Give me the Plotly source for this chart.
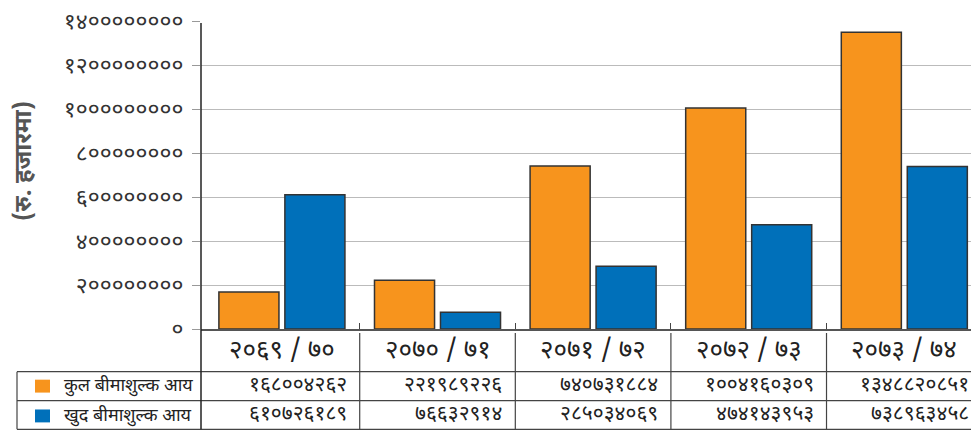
import plotly.graph_objects as go

categories = ["२०६९ / ७०", "२०७० / ७१", "२०७१ / ७२", "२०७२ / ७३", "२०७३ / ७४"]
series_names = ["कुल बीमाशुल्क आय", "खुद बीमाशुल्क आय"]
gross_premium = [168004262, 221989226, 740731884, 1004160309, 1348820851]
net_premium = [610726189, 76632914, 285034069, 474143953, 738963458]
y_tick_values = [0, 200000000, 400000000, 600000000, 800000000, 1000000000, 1200000000, 1400000000]
y_title = "(रु. हजारमा)"

colors = ["#F7941D", "#0070BA"]
DEV = str.maketrans("0123456789", "०१२३४५६७८९")
def dev(n):
    return str(n).translate(DEV)

FONT = "Noto Sans Devanagari, Noto Sans, Lohit Devanagari, sans-serif"

xs = list(range(len(categories)))
W = 0.386
fig = go.Figure()
fig.add_trace(go.Bar(x=xs, y=gross_premium, name=series_names[0], width=W, offset=-0.405,
                     marker=dict(color=colors[0], line=dict(color="#333333", width=1.5))))
fig.add_trace(go.Bar(x=xs, y=net_premium, name=series_names[1], width=W, offset=0.019,
                     marker=dict(color=colors[1], line=dict(color="#333333", width=1.5))))

# page pixel -> paper coords (plot area spans page x 201..979, y 19..329)
def py(p):
    return (329 - p) / 310.0
def px(p):
    return (p - 201) / 778.0

shapes = []
annotations = []
n = len(categories)
for yy in [372, 401, 430]:
    shapes.append(dict(type="line", xref="paper", yref="paper", x0=px(17), x1=1, y0=py(yy), y1=py(yy),
                       line=dict(color="#444444", width=1.2)))
shapes.append(dict(type="line", xref="paper", yref="paper", x0=px(17), x1=px(17), y0=py(372), y1=py(430),
                   line=dict(color="#444444", width=1.2)))
for k in range(n - 1):
    shapes.append(dict(type="line", xref="x", yref="paper", x0=k + 0.5, x1=k + 0.5, y0=py(333), y1=py(430),
                       line=dict(color="#444444", width=1.2)))
shapes.append(dict(type="line", xref="paper", yref="paper", x0=0, x1=0, y0=py(430), y1=py(21),
                   line=dict(color="#222222", width=1.5)))
for i, (y0, y1) in enumerate([(380, 393), (410, 423)]):
    shapes.append(dict(type="rect", xref="paper", yref="paper", x0=px(35), x1=px(50), y0=py(y1), y1=py(y0),
                       fillcolor=colors[i], line=dict(width=0)))
    annotations.append(dict(xref="paper", yref="paper", x=px(62), y=py((y0 + y1) / 2 + 0.5), text=series_names[i],
                            showarrow=False, xanchor="left", yanchor="middle",
                            font=dict(family=FONT, size=18, color="#222222")))

for k in range(n):
    annotations.append(dict(xref="x", yref="paper", x=k, y=py(352), text=categories[k], showarrow=False,
                            xanchor="center", yanchor="middle", font=dict(family=FONT, size=26, color="#222222")))
    annotations.append(dict(xref="x", yref="paper", x=k + 0.5 - 0.07, y=py(386.5), text=dev(gross_premium[k]),
                            showarrow=False, xanchor="right", yanchor="middle",
                            font=dict(family=FONT, size=21, color="#222222")))
    annotations.append(dict(xref="x", yref="paper", x=k + 0.5 - 0.07, y=py(415.5), text=dev(net_premium[k]),
                            showarrow=False, xanchor="right", yanchor="middle",
                            font=dict(family=FONT, size=21, color="#222222")))

annotations.append(dict(xref="paper", yref="paper", x=px(25), y=py(160), text="<b>" + y_title + "</b>",
                        textangle=-90, showarrow=False, xanchor="center", yanchor="middle",
                        font=dict(family=FONT, size=24, color="#555555")))

# the page body has an 8px margin, so the figure is offset by 8px
fig.update_layout(
    width=971, height=425,
    margin=dict(l=193, r=0, t=11, b=104),
    paper_bgcolor="white", plot_bgcolor="white",
    barmode="overlay",
    showlegend=False,
    shapes=shapes,
    annotations=annotations,
    xaxis=dict(range=[-0.52, 4.48], tickmode="array", tickvals=[k + 0.5 for k in range(n - 1)],
               ticktext=[""] * (n - 1), ticks="inside", ticklen=6, tickcolor="#444444", tickwidth=1.2,
               showgrid=False, showline=True, linecolor="#555555", linewidth=1.5, zeroline=False,
               showticklabels=False),
    yaxis=dict(range=[0, 1400000000], tickmode="array", tickvals=y_tick_values,
               ticktext=[dev(v) for v in y_tick_values], ticks="outside", ticklen=8, tickcolor="#999999",
               ticklabeloverflow="allow", ticklabelstandoff=4,
               showgrid=True, gridcolor="#BBBBBB", gridwidth=1, zeroline=False, showline=False,
               tickfont=dict(family=FONT, size=23, color="#333333")),
)

fig.write_html("out.html")
